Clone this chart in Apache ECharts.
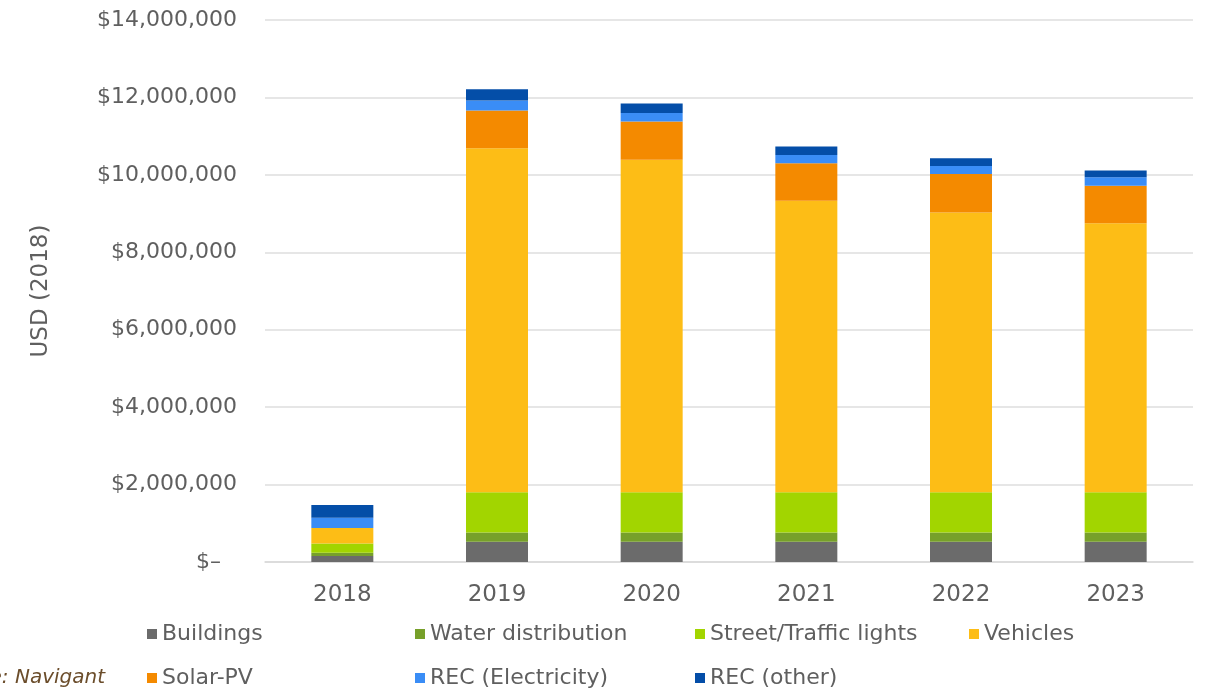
<!DOCTYPE html>
<html>
<head>
<meta charset="utf-8">
<script src="https://cdn.jsdelivr.net/npm/echarts@6/dist/echarts.min.js"></script>
<style>
  html, body { margin: 0; padding: 0; background: #fff; }
  #chart { width: 1213px; height: 691px; }
</style>
</head>
<body>
<div id="chart"></div>
<script>
const years = ['2018', '2019', '2020', '2021', '2022', '2023']
const buildings = [155000, 520000, 520000, 520000, 520000, 520000]
const water = [85000, 240000, 240000, 240000, 240000, 240000]
const street = [240000, 1040000, 1040000, 1040000, 1040000, 1040000]
const vehicles = [400000, 8890000, 8590000, 7530000, 7230000, 6950000]
const solar = [0, 970000, 990000, 970000, 990000, 970000]
const recElec = [260000, 260000, 220000, 210000, 210000, 220000]
const recOther = [330000, 290000, 240000, 220000, 200000, 170000]

const seriesDefs = [
  { name: 'Buildings', data: buildings, color: '#6b6b6b' },
  { name: 'Water distribution', data: water, color: '#77a02a' },
  { name: 'Street/Traffic lights', data: street, color: '#a2d500' },
  { name: 'Vehicles', data: vehicles, color: '#fdbd16' },
  { name: 'Solar-PV', data: solar, color: '#f48a00' },
  { name: 'REC (Electricity)', data: recElec, color: '#3a8df6' },
  { name: 'REC (other)', data: recOther, color: '#044ea8' }
]

// legend slots: [left, top]
const legendPos = [
  [147, 623], [415, 623], [695, 623], [969, 623],
  [147, 667], [415, 667], [695, 667]
]

const textColor = '#5f5f5f'
const font = 'DejaVu Sans'

const chart = echarts.init(document.getElementById('chart'))

const option = {
  animation: false,
  textStyle: { fontFamily: font },
  grid: { left: 265, right: 20, top: 20, bottom: 129 },
  legend: seriesDefs.map((s, i) => ({
    data: [s.name],
    left: legendPos[i][0],
    top: legendPos[i][1],
    icon: 'rect',
    itemWidth: 10,
    itemHeight: 10,
    padding: 0,
    selectedMode: false,
    textStyle: { color: textColor, fontSize: 22, fontFamily: font }
  })),
  xAxis: {
    type: 'category',
    data: years,
    axisLine: { show: true, lineStyle: { color: '#d9d9d9', width: 1.5 } },
    axisTick: { show: false },
    axisLabel: { color: textColor, fontSize: 23, margin: 22, fontFamily: font }
  },
  yAxis: {
    type: 'value',
    min: 0,
    max: 14000000,
    interval: 2000000,
    name: 'USD (2018)',
    nameLocation: 'middle',
    nameGap: 212,
    nameRotate: 90,
    nameTextStyle: { color: textColor, fontSize: 23, fontFamily: font },
    axisLine: { show: false },
    axisTick: { show: false },
    splitLine: { lineStyle: { color: '#dedede', width: 1.5 } },
    axisLabel: {
      color: textColor,
      fontSize: 22,
      margin: 28,
      fontFamily: font,
      formatter: v => v === 0 ? '{z|$–}' : '$' + v.toLocaleString('en-US'),
      rich: { z: { color: textColor, fontSize: 22, fontFamily: font, padding: [0, 16, 0, 0] } }
    }
  },
  graphic: [{
    type: 'text',
    x: 105,
    y: 678,
    style: {
      text: 'Source: Navigant',
      fill: '#6b4d2b',
      font: 'italic 20px "DejaVu Sans"',
      textAlign: 'right',
      textVerticalAlign: 'middle'
    }
  }],
  series: seriesDefs.map(s => ({
    name: s.name,
    type: 'bar',
    stack: 'total',
    barWidth: 62,
    data: s.data,
    itemStyle: { color: s.color }
  }))
}

chart.setOption(option)
</script>
</body>
</html>
